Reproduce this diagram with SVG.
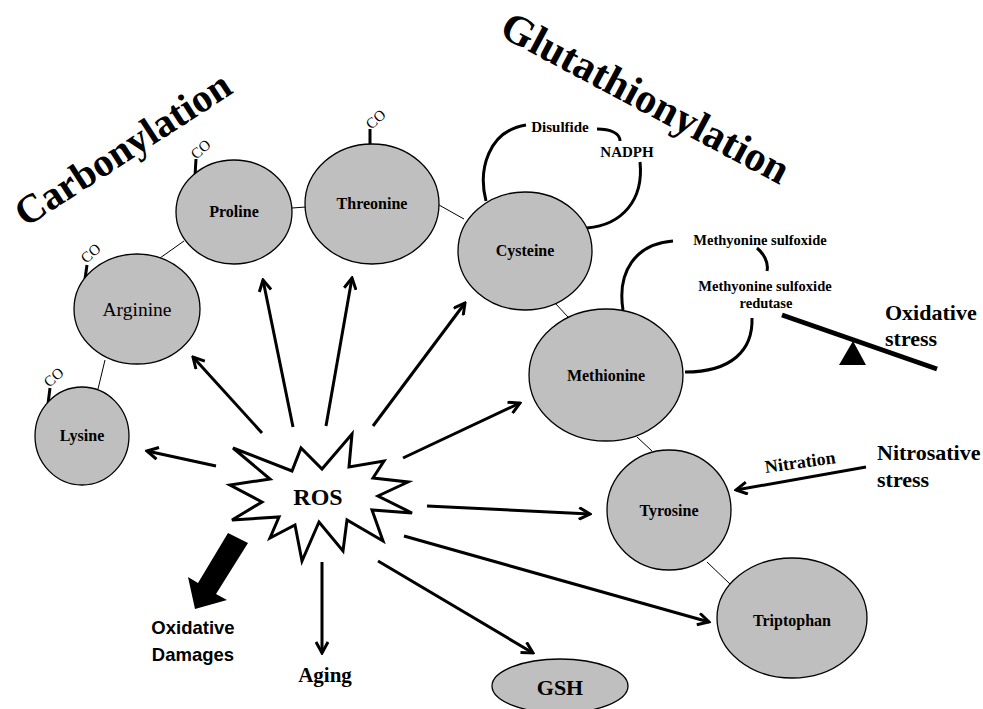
<svg xmlns="http://www.w3.org/2000/svg" width="983" height="709" viewBox="0 0 983 709">
<defs>
<style>
.node{fill:#bfbfbf;stroke:#000;stroke-width:1.3}
.lbl{font-family:"Liberation Serif","Times New Roman",serif;font-weight:bold;font-size:16px;text-anchor:middle;fill:#000}
.thin{stroke:#000;stroke-width:1;fill:none}
.arr{stroke:#000;stroke-width:3;fill:none;marker-end:url(#ah)}
.loop{stroke:#000;stroke-width:3;fill:none;stroke-linecap:butt}
.co{stroke:#000;stroke-width:3}
.cot{font-family:"Liberation Serif","Times New Roman",serif;font-size:15px;fill:#000;text-anchor:middle}
.ser{font-family:"Liberation Serif","Times New Roman",serif;font-weight:bold;fill:#000}
</style>
<marker id="ah" viewBox="0 0 14 14" refX="12" refY="7" markerWidth="14" markerHeight="14" markerUnits="userSpaceOnUse" orient="auto">
<path d="M1,1 L12,7 L1,13" stroke="#000" stroke-width="3" fill="none"/>
</marker>
</defs>
<rect width="983" height="709" fill="#fff"/>

<!-- titles -->
<text class="ser" font-size="40" text-anchor="middle" transform="translate(130,160) rotate(-33)">Carbonylation</text>
<text class="ser" font-size="42" text-anchor="middle" transform="translate(639,110) rotate(28)">Glutathionylation</text>

<!-- connectors -->
<g id="connectors">
<line class="thin" x1="98" y1="389" x2="105" y2="360"/>
<line class="thin" x1="160" y1="258" x2="184" y2="241"/>
<line class="thin" x1="292" y1="208" x2="306" y2="207"/>
<line class="thin" x1="439" y1="205" x2="464" y2="219"/>
<line class="thin" x1="555" y1="303" x2="568" y2="317"/>
<line class="thin" x1="637" y1="437" x2="652" y2="451"/>
<line class="thin" x1="707" y1="562" x2="730" y2="584"/>

<line class="co" x1="48" y1="404" x2="50" y2="388"/>
<line class="co" x1="85" y1="279" x2="87" y2="265"/>
<line class="co" x1="195" y1="176" x2="196" y2="159"/>
<line class="co" x1="370" y1="145" x2="370" y2="129"/>

<path class="loop" d="M486,201 C478,170 488,131 526,125"/>
<path class="loop" d="M597,129 C610,129 620,133 620,141"/>
<path class="loop" d="M640,162 C644,200 622,225 587,228"/>
<path class="loop" d="M623,310 C617,272 635,244 673,241"/>
<path class="loop" d="M757,248 C763,253 769,262 767,271"/>
<path class="loop" d="M752,318 C753,350 732,372 685,372"/>

<line class="arr" x1="216" y1="466" x2="147" y2="451"/>
<line class="arr" x1="262" y1="433" x2="193" y2="357"/>
<line class="arr" x1="293" y1="427" x2="263" y2="280"/>
<line class="arr" x1="326" y1="426" x2="352" y2="278"/>
<line class="arr" x1="373" y1="426" x2="465" y2="303"/>
<line class="arr" x1="403" y1="458" x2="520" y2="403"/>
<line class="arr" x1="427" y1="506" x2="590" y2="514"/>
<line class="arr" x1="404" y1="536" x2="709" y2="622"/>
<line class="arr" x1="378" y1="561" x2="533" y2="653"/>
<line class="arr" x1="322" y1="562" x2="322" y2="653"/>
<line class="arr" x1="866" y1="467" x2="736" y2="490"/>

<polygon points="228,533 248,543 216,594 227,600 195,609 188,577 198,583" fill="#000"/>

<line x1="782" y1="315" x2="937" y2="369" stroke="#000" stroke-width="5"/>
<polygon points="853,341 839,365 866,365" fill="#000"/>
</g>

<!-- CO labels -->
<text class="cot" transform="translate(57,381) rotate(-42)">CO</text>
<text class="cot" transform="translate(94,257) rotate(-42)">CO</text>
<text class="cot" transform="translate(204,153) rotate(-42)">CO</text>
<text class="cot" transform="translate(379,123) rotate(-42)">CO</text>

<g id="lysine"><ellipse class="node" cx="82" cy="436" rx="47" ry="49"/><text class="lbl" x="82" y="441">Lysine</text></g>
<g id="arginine"><ellipse class="node" cx="137" cy="309" rx="63" ry="55"/><text x="137" y="316" font-family="Liberation Serif,Times New Roman,serif" font-size="19.5" text-anchor="middle">Arginine</text></g>
<g id="proline"><ellipse class="node" cx="234" cy="212" rx="58" ry="52"/><text class="lbl" x="234" y="217">Proline</text></g>
<g id="threonine"><ellipse class="node" cx="372" cy="204" rx="67" ry="60"/><text class="lbl" x="372" y="209">Threonine</text></g>
<g id="cysteine"><ellipse class="node" cx="525" cy="251" rx="67" ry="59"/><text class="lbl" x="525" y="256">Cysteine</text></g>
<g id="methionine"><ellipse class="node" cx="606" cy="375" rx="77" ry="66"/><text class="lbl" x="606" y="381">Methionine</text></g>
<g id="tyrosine"><ellipse class="node" cx="669" cy="510" rx="62" ry="60"/><text class="lbl" x="669" y="516">Tyrosine</text></g>
<g id="triptophan"><ellipse class="node" cx="792" cy="618" rx="75" ry="60"/><text class="lbl" x="792" y="626">Triptophan</text></g>
<g id="gsh"><ellipse class="node" cx="560" cy="686" rx="68" ry="27"/><text class="lbl" x="560" y="695" style="font-size:22px">GSH</text></g>

<g id="ros">
<polygon points="233,448 292,471 301,448 322,469 352,434 349,467 384,461 373,478 408,482 378,496 412,513 372,510 383,541 347,520 343,551 319,522 302,561 295,525 270,538 279,517 232,520 262,502 230,485 270,479" fill="#fff" stroke="#000" stroke-width="3" stroke-linejoin="miter"/>
<text class="ser" x="318" y="505" font-size="24" text-anchor="middle">ROS</text>
</g>

<g id="side-labels">
<text class="ser" x="560" y="132" font-size="15" text-anchor="middle">Disulfide</text>
<text class="ser" x="627" y="157" font-size="15" text-anchor="middle">NADPH</text>
<text class="ser" x="760" y="245" font-size="14.5" text-anchor="middle">Methyonine sulfoxide</text>
<text class="ser" x="765" y="291" font-size="14.5" text-anchor="middle">Methyonine sulfoxide</text>
<text class="ser" x="766" y="308" font-size="14.5" text-anchor="middle">redutase</text>
<text class="ser" x="885" y="320" font-size="22">Oxidative</text>
<text class="ser" x="885" y="346" font-size="22">stress</text>
<text class="ser" x="877" y="460" font-size="22">Nitrosative</text>
<text class="ser" x="877" y="487" font-size="22">stress</text>
<text class="ser" font-size="18" text-anchor="middle" transform="translate(801,468) rotate(-8)">Nitration</text>
<text class="ser" x="325" y="682" font-size="21" text-anchor="middle">Aging</text>
<text x="193" y="634" font-family="Liberation Sans,Arial,sans-serif" font-weight="bold" font-size="18.5" text-anchor="middle">Oxidative</text>
<text x="193" y="661" font-family="Liberation Sans,Arial,sans-serif" font-weight="bold" font-size="18.5" text-anchor="middle">Damages</text>
</g>
</svg>
